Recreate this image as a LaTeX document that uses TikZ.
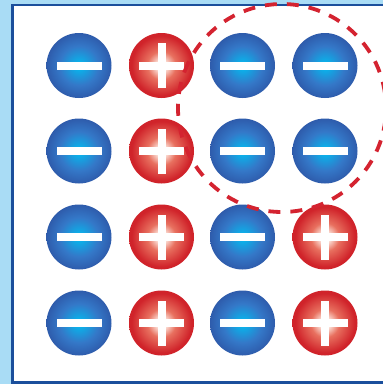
\documentclass[tikz,border=0pt]{standalone}
\usepackage{xcolor}
\usepackage{tikz}

\definecolor{skyback}{HTML}{A9DCF5}
\definecolor{frameblue}{HTML}{1B4F9C}
\definecolor{ionblue}{HTML}{2A4898}
\definecolor{ionmid}{HTML}{3478C8}
\definecolor{ioncyan}{HTML}{08B4EC}
\definecolor{ionred}{HTML}{D0232A}
\definecolor{ionpink}{HTML}{E8705F}
\definecolor{ionglow}{HTML}{FFF4EC}
\definecolor{dashred}{HTML}{D42330}

\pgfdeclareradialshading{anionshade}{\pgfpoint{0bp}{0bp}}{color(0bp)=(ioncyan); color(2bp)=(ioncyan); color(15bp)=(ionmid); color(32bp)=(ionblue); color(50bp)=(ionblue)}
\pgfdeclareradialshading{cationshade}{\pgfpoint{0bp}{0bp}}{color(0bp)=(ionglow); color(3bp)=(ionglow); color(11bp)=(ionpink); color(23bp)=(ionred); color(50bp)=(ionred)}

\begin{document}
\begin{tikzpicture}[
    x=1pt, y=-1pt,
    ion/.style={circle, minimum size=65pt, inner sep=0pt, outer sep=0pt},
    anion/.style={ion, shading=anionshade,
        path picture={\fill[white] ([xshift=-22.5pt, yshift=-4pt]path picture bounding box.center) rectangle ([xshift=22.5pt, yshift=4pt]path picture bounding box.center);}},
    cation/.style={ion, shading=cationshade,
        path picture={\fill[white] ([xshift=-22.5pt, yshift=-4pt]path picture bounding box.center) rectangle ([xshift=22.5pt, yshift=4pt]path picture bounding box.center);
                      \fill[white] ([xshift=-4pt, yshift=-22.5pt]path picture bounding box.center) rectangle ([xshift=4pt, yshift=22.5pt]path picture bounding box.center);}},
    cellring/.style={circle, draw=dashred, line width=3.8pt, dash pattern=on 12pt off 10pt, minimum size=208pt, inner sep=0pt}
]
\useasboundingbox (0,0) rectangle (383,384);
\fill[skyback] (0,0) rectangle (383,384);
\draw[frameblue, line width=2.5pt, fill=white] (12.5,5) rectangle (400,382.5);

% row 1
\node[anion] (ion11) at (79,65.5) {};
\node[cation] (ion12) at (161.5,65.5) {};
\node[anion] (ion13) at (242.5,65.5) {};
\node[anion] (ion14) at (325,65.5) {};
% row 2
\node[anion] (ion21) at (79,151) {};
\node[cation] (ion22) at (161.5,151) {};
\node[anion] (ion23) at (242.5,151) {};
\node[anion] (ion24) at (325,151) {};
% row 3
\node[anion] (ion31) at (79,237) {};
\node[cation] (ion32) at (161.5,237) {};
\node[anion] (ion33) at (242.5,237) {};
\node[cation] (ion34) at (325,237) {};
% row 4
\node[anion] (ion41) at (79,323) {};
\node[cation] (ion42) at (161.5,323) {};
\node[anion] (ion43) at (242.5,323) {};
\node[cation] (ion44) at (325,323) {};

\node[cellring, rotate=8] (cell) at (282,108) {};
\end{tikzpicture}
\end{document}
